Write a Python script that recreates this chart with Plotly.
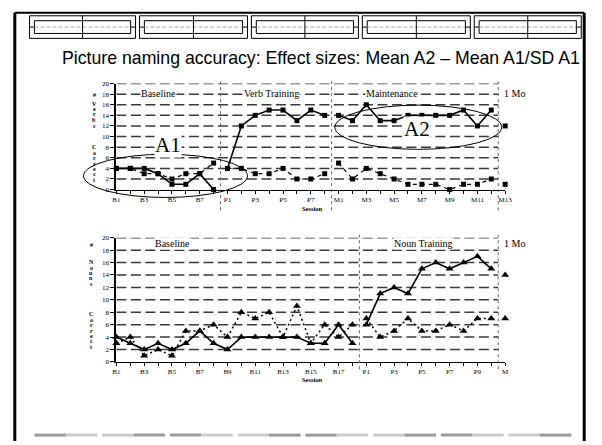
import plotly.graph_objects as go

W, H = 602, 445

# ---------------- data ----------------
verb_cats = ["B1", "B2", "B3", "B4", "B5", "B6", "B7", "B8",
             "P1", "P2", "P3", "P4", "P5", "P6", "P7", "P8",
             "M1", "M2", "M3", "M4", "M5", "M6", "M7", "M8", "M9", "M10", "M11", "M12", "M13"]
verb_phase_lengths = [8, 8, 12, 1]
verbs_trained = [4, 4, 4, 3, 1, 1, 3, 0,
                 4, 12, 14, 15, 15, 13, 15, 14,
                 14, 13, 16, 13, 13, 14, 14, 14, 14, 15, 12, 15,
                 12]
verbs_untrained = [4, 4, 3, 3, 2, 3, 3, 5,
                   4, 4, 3, 3, 4, 2, 2, 3,
                   5, 2, 4, 3, 2, 1, 1, 1, 0, 1, 1, 2,
                   1]
verb_phase_names = ["Baseline", "Verb Training", "Maintenance", "1 Mo"]

noun_cats = ["B1", "B2", "B3", "B4", "B5", "B6", "B7", "B8", "B9", "B10", "B11", "B12",
             "B13", "B14", "B15", "B16", "B17", "B18",
             "P1", "P2", "P3", "P4", "P5", "P6", "P7", "P8", "P9", "P10", "M"]
noun_phase_lengths = [18, 10, 1]
nouns_trained = [4, 3, 2, 3, 2, 3, 5, 3, 2, 4, 4, 4, 4, 4, 3, 3, 6, 3,
                 6, 11, 12, 11, 15, 16, 15, 16, 17, 15,
                 14]
nouns_untrained = [3, 4, 1, 2, 1, 5, 5, 6, 4, 8, 7, 8, 4, 9, 3, 6, 4, 6,
                   7, 4, 5, 7, 5, 5, 6, 5, 7, 7,
                   7]
noun_phase_names = ["Baseline", "Noun Training", "1 Mo"]

y_ticks = [0, 2, 4, 6, 8, 10, 12, 14, 16, 18, 20]
title_text = "Picture naming accuracy: Effect sizes: Mean A2 \u2013 Mean A1/SD A1"

# ---------------- helpers ----------------
def px(x):
    return x / W

def py(y):
    return 1 - y / H

def segments(vals, lengths):
    xs, ys = [], []
    i = 0
    for L in lengths:
        for _ in range(L):
            xs.append(i)
            ys.append(vals[i])
            i += 1
        xs.append(None)
        ys.append(None)
    return xs, ys

SERIF = "Liberation Serif, Times New Roman, serif"
SANS = "Liberation Sans, Arial, sans-serif"

fig = go.Figure()

# top chart traces
x, y = segments(verbs_trained, verb_phase_lengths)
fig.add_trace(go.Scatter(x=x, y=y, mode="lines+markers", xaxis="x", yaxis="y",
                         line=dict(color="black", width=1.6),
                         marker=dict(symbol="square", size=5, color="black"),
                         cliponaxis=False, showlegend=False))
x, y = segments(verbs_untrained, verb_phase_lengths)
fig.add_trace(go.Scatter(x=x, y=y, mode="lines+markers", xaxis="x", yaxis="y",
                         line=dict(color="black", width=1.2, dash="4px,4px"),
                         marker=dict(symbol="square", size=5, color="black"),
                         cliponaxis=False, showlegend=False))
# bottom chart traces
x, y = segments(nouns_trained, noun_phase_lengths)
fig.add_trace(go.Scatter(x=x, y=y, mode="lines+markers", xaxis="x2", yaxis="y2",
                         line=dict(color="black", width=1.6),
                         marker=dict(symbol="triangle-up", size=7, color="black"),
                         cliponaxis=False, showlegend=False))
x, y = segments(nouns_untrained, noun_phase_lengths)
fig.add_trace(go.Scatter(x=x, y=y, mode="lines+markers", xaxis="x2", yaxis="y2",
                         line=dict(color="black", width=1.5, dash="2px,3px"),
                         marker=dict(symbol="triangle-up", size=7, color="black"),
                         cliponaxis=False, showlegend=False))

def xaxis_cfg(cats, y_anchor, dom):
    return dict(domain=dom, anchor=y_anchor, range=[0, len(cats) - 1],
                tickmode="array", tickvals=list(range(len(cats))),
                ticktext=[c if i % 2 == 0 else "" for i, c in enumerate(cats)],
                ticks="outside", ticklen=3, tickwidth=1, tickcolor="black",
                showline=True, linecolor="black", linewidth=1,
                showgrid=False, zeroline=False,
                tickfont=dict(family=SERIF, size=7, color="black"))

def yaxis_cfg(x_anchor, dom):
    return dict(domain=dom, anchor=x_anchor, range=[0, 20],
                tickmode="array", tickvals=y_ticks,
                ticks="outside", ticklen=4, tickwidth=1, tickcolor="black",
                showline=True, linecolor="black", linewidth=2,
                showgrid=False, zeroline=False,
                tickfont=dict(family=SERIF, size=7, color="black"))

X_DOM = [px(114.5), px(510.5)]
TOP_DOM = [py(189), py(81)]
BOT_DOM = [py(364.5), py(238)]

shapes = []
annotations = []

# gridlines + phase lines
for xa, ya, ytop_px, ybot_px, lengths in [("x", "y", 78, 210, verb_phase_lengths),
                                          ("x2", "y2", 235, 372, noun_phase_lengths)]:
    last = sum(lengths) - 1.5
    for v in y_ticks[1:]:
        shapes.append(dict(type="line", xref=xa, yref=ya, x0=0, x1=last, y0=v, y1=v,
                           line=dict(color="#3a3a3a", width=1.5, dash="10px,4.5px"), layer="below"))
    pos = -0.5
    for L in lengths[:-1]:
        pos += L
        shapes.append(dict(type="line", xref=xa, yref="paper", x0=pos, x1=pos,
                           y0=py(ybot_px), y1=py(ytop_px),
                           line=dict(color="#666666", width=1, dash="dot")))

# ellipses
shapes.append(dict(type="circle", xref="paper", yref="paper",
                   x0=px(81), x1=px(248), y0=py(197), y1=py(153),
                   line=dict(color="black", width=1)))
shapes.append(dict(type="circle", xref="paper", yref="paper",
                   x0=px(337), x1=px(507), y0=py(148), y1=py(103),
                   line=dict(color="black", width=1)))

# slide frame
shapes.append(dict(type="line", xref="paper", yref="paper", x0=px(11), x1=px(11), y0=py(445), y1=py(9),
                   line=dict(color="black", width=3)))
shapes.append(dict(type="line", xref="paper", yref="paper", x0=px(591), x1=px(591), y0=py(445), y1=py(9),
                   line=dict(color="black", width=3)))
shapes.append(dict(type="line", xref="paper", yref="paper", x0=px(11), x1=px(591), y0=py(9), y1=py(9),
                   line=dict(color="black", width=2)))

# header boxes
box_edges = [(26, 134), (138, 248), (252, 361), (365, 475), (479, 588)]
for a, b in box_edges:
    shapes.append(dict(type="rect", xref="paper", yref="paper", x0=px(a), x1=px(b), y0=py(35), y1=py(12),
                       line=dict(color="black", width=1)))
    shapes.append(dict(type="rect", xref="paper", yref="paper", x0=px(a + 5), x1=px(b - 5), y0=py(30), y1=py(17),
                       line=dict(color="black", width=1)))
    shapes.append(dict(type="line", xref="paper", yref="paper", x0=px(a), x1=px(a + 5), y0=py(23.5), y1=py(23.5),
                       line=dict(color="black", width=1)))
    shapes.append(dict(type="line", xref="paper", yref="paper", x0=px(b - 5), x1=px(b), y0=py(23.5), y1=py(23.5),
                       line=dict(color="black", width=1)))
    shapes.append(dict(type="line", xref="paper", yref="paper", x0=px(a + 5), x1=px(b - 5), y0=py(23.5), y1=py(23.5),
                       line=dict(color="#aaaaaa", width=1, dash="4px,2px")))
    m = (a + b) / 2
    shapes.append(dict(type="line", xref="paper", yref="paper", x0=px(m), x1=px(m), y0=py(35), y1=py(12),
                       line=dict(color="black", width=1)))

# footer bars
bar_edges = [(31, 95), (100, 164), (169, 233), (238, 302), (307, 371), (376, 440), (445, 509), (514, 578)]
for k, (a, b) in enumerate(bar_edges):
    m = (a + b) / 2
    c1, c2 = ("#999999", "#cccccc") if k % 2 == 0 else ("#cccccc", "#999999")
    shapes.append(dict(type="line", xref="paper", yref="paper", x0=px(a), x1=px(m), y0=py(439), y1=py(439),
                       line=dict(color=c1, width=3)))
    shapes.append(dict(type="line", xref="paper", yref="paper", x0=px(m), x1=px(b), y0=py(439), y1=py(439),
                       line=dict(color=c2, width=3)))

# title
annotations.append(dict(text=title_text, xref="paper", yref="paper", x=px(323), y=py(55),
                        showarrow=False, font=dict(family=SANS, size=17.7, color="black"),
                        xanchor="center", yanchor="middle"))

# phase labels
def phase_label(text, xc, yc, anchor="center"):
    annotations.append(dict(text=text, xref="paper", yref="paper", x=px(xc), y=py(yc),
                            showarrow=False, font=dict(family=SERIF, size=10, color="black"),
                            xanchor=anchor, yanchor="middle", bgcolor="white", borderpad=0))

phase_label(verb_phase_names[0], 157, 91)
phase_label(verb_phase_names[1], 272, 91)
phase_label(verb_phase_names[2], 395, 91)
phase_label(verb_phase_names[3], 508, 91, "left")
phase_label(noun_phase_names[0], 172, 244)
phase_label(noun_phase_names[1], 427, 244)
phase_label(noun_phase_names[2], 508, 244, "left")

# A1 / A2
for t, xc, yc in [("A1", 167, 144), ("A2", 421, 127)]:
    annotations.append(dict(text=t, xref="paper", yref="paper", x=px(xc), y=py(yc), showarrow=False,
                            font=dict(family=SERIF, size=21, color="black"),
                            xanchor="center", yanchor="middle", bgcolor="white", borderpad=0))

# session labels
for yc in (208, 382):
    annotations.append(dict(text="<b>Session</b>", xref="paper", yref="paper", x=px(314), y=py(yc),
                            showarrow=False, font=dict(family=SERIF, size=6.5, color="black"),
                            xanchor="center", yanchor="middle"))

# stacked y-axis titles
top_letters = ["#", "V", "e", "r", "b", "s", "C", "o", "r", "r", "e", "c", "t"]
top_letter_y = [93, 101.5, 107, 112.5, 118.5, 124.5, 146, 151.5, 157, 162.5, 168, 173.5, 179]
bot_letters = ["#", "N", "o", "u", "n", "s", "C", "o", "r", "r", "e", "c", "t"]
bot_letter_y = [245, 263, 268.5, 274, 279.5, 285, 316, 321.5, 327, 332.5, 338, 343.5, 349]
for letters, ys, xc in [(top_letters, top_letter_y, 92), (bot_letters, bot_letter_y, 89)]:
    for ch, yc in zip(letters, ys):
        annotations.append(dict(text="<b>" + ch + "</b>", xref="paper", yref="paper", x=px(xc), y=py(yc),
                                showarrow=False, font=dict(family=SERIF, size=6, color="black"),
                                xanchor="center", yanchor="middle"))

fig.update_layout(
    width=W, height=H,
    margin=dict(l=0, r=0, t=0, b=0),
    paper_bgcolor="white", plot_bgcolor="rgba(0,0,0,0)",
    showlegend=False,
    xaxis=xaxis_cfg(verb_cats, "y", X_DOM),
    yaxis=yaxis_cfg("x", TOP_DOM),
    xaxis2=xaxis_cfg(noun_cats, "y2", X_DOM),
    yaxis2=yaxis_cfg("x2", BOT_DOM),
    shapes=shapes,
    annotations=annotations,
)

fig.write_html("out.html", config={"displayModeBar": False},
               post_script="document.body.style.margin='0';document.body.style.overflow='hidden';")
